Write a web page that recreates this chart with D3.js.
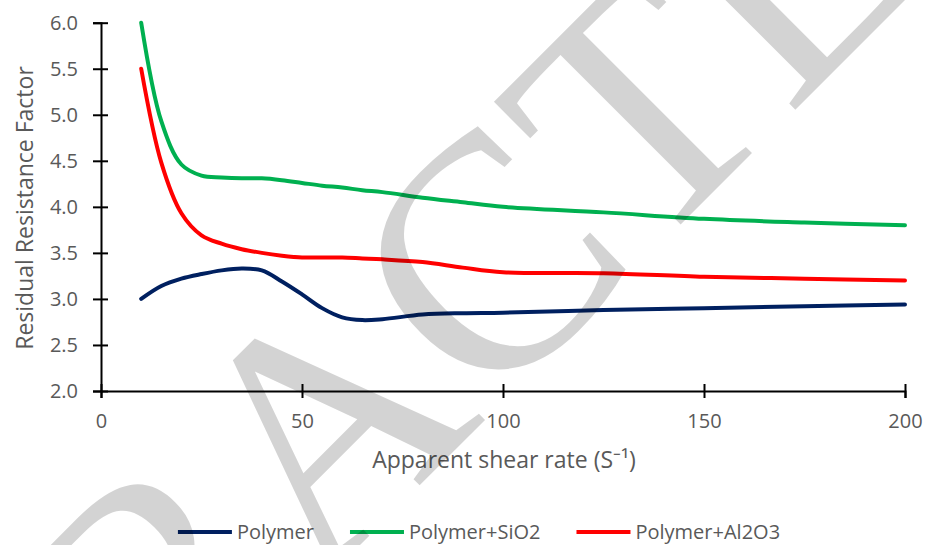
<!DOCTYPE html>
<html>
<head>
<meta charset="utf-8">
<script src="https://cdn.jsdelivr.net/npm/d3@7"></script>
<style>
  html, body { margin: 0; padding: 0; background: #fff; }
  svg { display: block; }
</style>
</head>
<body>
<svg id="chart" width="929" height="545"></svg>
<script>
// ---- data ----
const shearRate = [10, 15, 20, 25, 30, 35, 40, 45, 50, 55, 60, 65, 70, 80, 90, 100, 125, 150, 175, 200];
const polymer   = [3.00, 3.14, 3.22, 3.27, 3.31, 3.33, 3.31, 3.19, 3.05, 2.90, 2.80, 2.77, 2.78, 2.83, 2.845, 2.85, 2.88, 2.90, 2.92, 2.94];
const polySiO2  = [6.00, 4.93, 4.46, 4.34, 4.32, 4.31, 4.31, 4.29, 4.26, 4.23, 4.21, 4.18, 4.16, 4.10, 4.05, 4.00, 3.94, 3.87, 3.83, 3.80];
const polyAl2O3 = [5.50, 4.48, 3.93, 3.69, 3.60, 3.54, 3.50, 3.47, 3.45, 3.45, 3.45, 3.44, 3.43, 3.40, 3.34, 3.29, 3.28, 3.24, 3.22, 3.20];
const seriesNames = ["Polymer", "Polymer+SiO2", "Polymer+Al2O3"];
const seriesColors = ["#002060", "#00B050", "#FF0000"];
const xTicks = [0, 50, 100, 150, 200];
const yTicks = [2.0, 2.5, 3.0, 3.5, 4.0, 4.5, 5.0, 5.5, 6.0];
const xTitle = "Apparent shear rate (S\u207B\u00B9)";
const yTitle = "Residual Resistance Factor";
const watermark = "RETRACTED";

const series = [polymer, polySiO2, polyAl2O3].map((vals, i) => ({
  name: seriesNames[i], color: seriesColors[i],
  values: vals.map((v, j) => ({ x: shearRate[j], y: v }))
}));

const svg = d3.select("#chart");
const x = d3.scaleLinear().domain([0, 200]).range([101, 905]);
const y = d3.scaleLinear().domain([2, 6]).range([391, 22.7]);

const textColor = "#595959";
const font = "'Open Sans', sans-serif";

// y axis
const yAxis = svg.append("g").attr("transform", `translate(${x(0)},0)`)
  .call(d3.axisLeft(y).tickValues(yTicks).tickFormat(d3.format(".1f")).tickSizeOuter(0).tickSize(8).tickPadding(15));
yAxis.select(".domain").attr("stroke", "#000").attr("stroke-width", 2);
yAxis.selectAll(".tick line").attr("x1", -8).attr("x2", 7).attr("stroke", "#000").attr("stroke-width", 2);
yAxis.selectAll(".tick text").attr("fill", textColor)
  .style("font-family", font).style("font-size", "20px");

// x axis
const xAxis = svg.append("g").attr("transform", `translate(0,${y(2)})`)
  .call(d3.axisBottom(x).tickValues(xTicks).tickSizeOuter(0).tickSize(7).tickPadding(16));
xAxis.select(".domain").attr("stroke", "#000").attr("stroke-width", 2);
xAxis.selectAll(".tick line").attr("y1", -7).attr("y2", 7).attr("stroke", "#000").attr("stroke-width", 2);
xAxis.selectAll(".tick text").attr("fill", textColor)
  .style("font-family", font).style("font-size", "20px");

// lines
const line = d3.line().x(d => x(d.x)).y(d => y(d.y)).curve(d3.curveCatmullRom.alpha(0.5));
svg.append("g").selectAll("path").data(series).join("path")
  .attr("d", d => line(d.values))
  .attr("fill", "none")
  .attr("stroke", d => d.color)
  .attr("stroke-width", 4)
  .attr("stroke-linecap", "round")
  .attr("stroke-linejoin", "round");

// axis titles
svg.append("text")
  .attr("transform", `translate(33,208) rotate(-90)`)
  .attr("text-anchor", "middle")
  .attr("fill", textColor)
  .style("font-family", font).style("font-size", "23px")
  .text(yTitle);

svg.append("text")
  .attr("x", 504).attr("y", 468)
  .attr("text-anchor", "middle")
  .attr("fill", textColor)
  .style("font-family", font).style("font-size", "23px")
  .text(xTitle);

// legend
const legend = svg.append("g");
const legendY = 532;
const lineLen = 54, lineGap = 5, itemGap = 36;
const items = legend.selectAll("g").data(series).join("g");
items.append("line").attr("x1", 0).attr("x2", lineLen).attr("y1", 0).attr("y2", 0)
  .attr("stroke", d => d.color).attr("stroke-width", 4);
items.append("text").attr("x", lineLen + lineGap).attr("y", 0).attr("dy", "0.35em")
  .attr("fill", textColor)
  .style("font-family", font).style("font-size", "20px")
  .text(d => d.name);
const widths = [];
items.each(function() {
  widths.push(lineLen + lineGap + this.querySelector("text").getComputedTextLength());
});
const totalW = d3.sum(widths) + itemGap * (widths.length - 1);
let cursor = 479 - totalW / 2;
items.attr("transform", (d, i) => {
  const t = `translate(${cursor},${legendY})`;
  cursor += widths[i] + itemGap;
  return t;
});

// watermark
svg.append("text")
  .attr("transform", "translate(408,497) rotate(-45)")
  .attr("text-anchor", "middle")
  .attr("fill", "#000").attr("fill-opacity", 0.173)
  .style("font-family", "'Liberation Serif', 'DejaVu Serif', serif").style("font-size", "334px")
  .text(watermark);
</script>
</body>
</html>
